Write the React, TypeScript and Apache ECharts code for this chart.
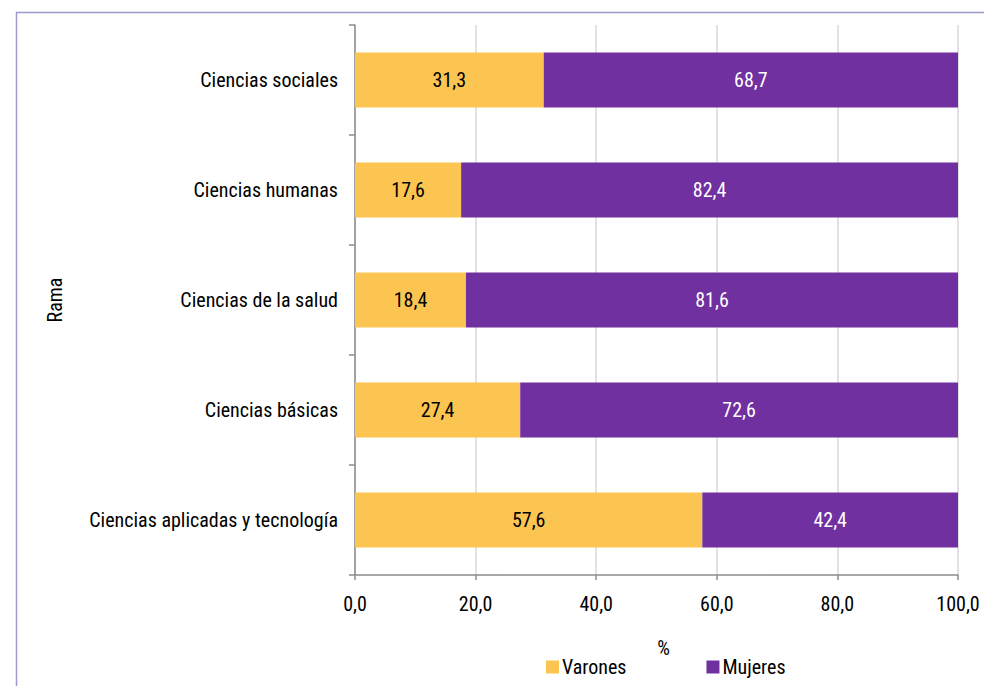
import React, { useEffect, useRef } from "react";
import * as echarts from "echarts";

const categories = [
  "Ciencias sociales",
  "Ciencias humanas",
  "Ciencias de la salud",
  "Ciencias básicas",
  "Ciencias aplicadas y tecnología",
];
const varones = [31.3, 17.6, 18.4, 27.4, 57.6];
const mujeres = [68.7, 82.4, 81.6, 72.6, 42.4];

const FONT = "'Roboto Condensed', 'Liberation Sans', sans-serif";
const FS = 20;
const fmt = (v: number) => v.toFixed(1).replace(".", ",");

export default function App() {
  const ref = useRef<HTMLDivElement>(null);
  useEffect(() => {
    const chart = echarts.init(ref.current!, undefined, { renderer: "svg" });
    chart.setOption({
      animation: false,
      backgroundColor: "#ffffff",
      textStyle: { fontFamily: FONT },
      graphic: [
        {
          type: "rect",
          shape: { x: 16.5, y: 12.5, width: 1200, height: 900 },
          style: { fill: "none", stroke: "#9b9bd0", lineWidth: 1.5 },
          silent: true,
        },
      ],
      grid: { left: 355, right: 26, top: 25, bottom: 111, containLabel: false },
      legend: {
        bottom: 4,
        left: 541,
        itemWidth: 13,
        itemHeight: 13,
        itemGap: 80,
        icon: "rect",
        textStyle: { fontFamily: FONT, fontSize: FS, color: "#000", padding: [0, 0, 0, -2] },
        data: ["Varones", "Mujeres"],
      },
      xAxis: {
        type: "value",
        min: 0,
        max: 100,
        interval: 20,
        name: "%",
        nameLocation: "middle",
        nameGap: 63,
        nameTextStyle: { fontFamily: FONT, fontSize: FS, color: "#000", padding: [0, 0, 0, 14] },
        axisLine: { show: true, lineStyle: { color: "#8c8c8c", width: 1.5 } },
        axisTick: { show: true, length: 5, lineStyle: { color: "#8c8c8c", width: 1.5 } },
        axisLabel: { formatter: (v: number) => fmt(v), fontFamily: FONT, fontSize: FS, color: "#000", margin: 19 },
        splitLine: { show: true, lineStyle: { color: "#d9d9d9", width: 1.5 } },
      },
      yAxis: {
        type: "category",
        data: categories,
        inverse: true,
        name: "Rama",
        nameLocation: "middle",
        nameGap: 290,
        nameRotate: 90,
        nameTextStyle: { fontFamily: FONT, fontSize: FS, color: "#000" },
        axisLine: { show: true, lineStyle: { color: "#8c8c8c", width: 1.5 } },
        axisTick: { show: true, length: 6, alignWithLabel: false, lineStyle: { color: "#8c8c8c", width: 1.5 } },
        axisLabel: { fontFamily: FONT, fontSize: FS, color: "#000", margin: 17 },
      },
      series: [
        {
          name: "Varones",
          type: "bar",
          stack: "total",
          barWidth: "50%",
          data: varones,
          itemStyle: { color: "#fcc552" },
          label: { show: true, position: "inside", formatter: (p: any) => fmt(p.value), fontFamily: FONT, fontSize: FS, color: "#000" },
        },
        {
          name: "Mujeres",
          type: "bar",
          stack: "total",
          barWidth: "50%",
          data: mujeres,
          itemStyle: { color: "#7030a0" },
          label: { show: true, position: "inside", formatter: (p: any) => fmt(p.value), fontFamily: FONT, fontSize: FS, color: "#fff" },
        },
      ],
    });
    return () => chart.dispose();
  }, []);
  return <div ref={ref} style={{ position: "fixed", left: 0, top: 0, width: 984, height: 686 }} />;
}
